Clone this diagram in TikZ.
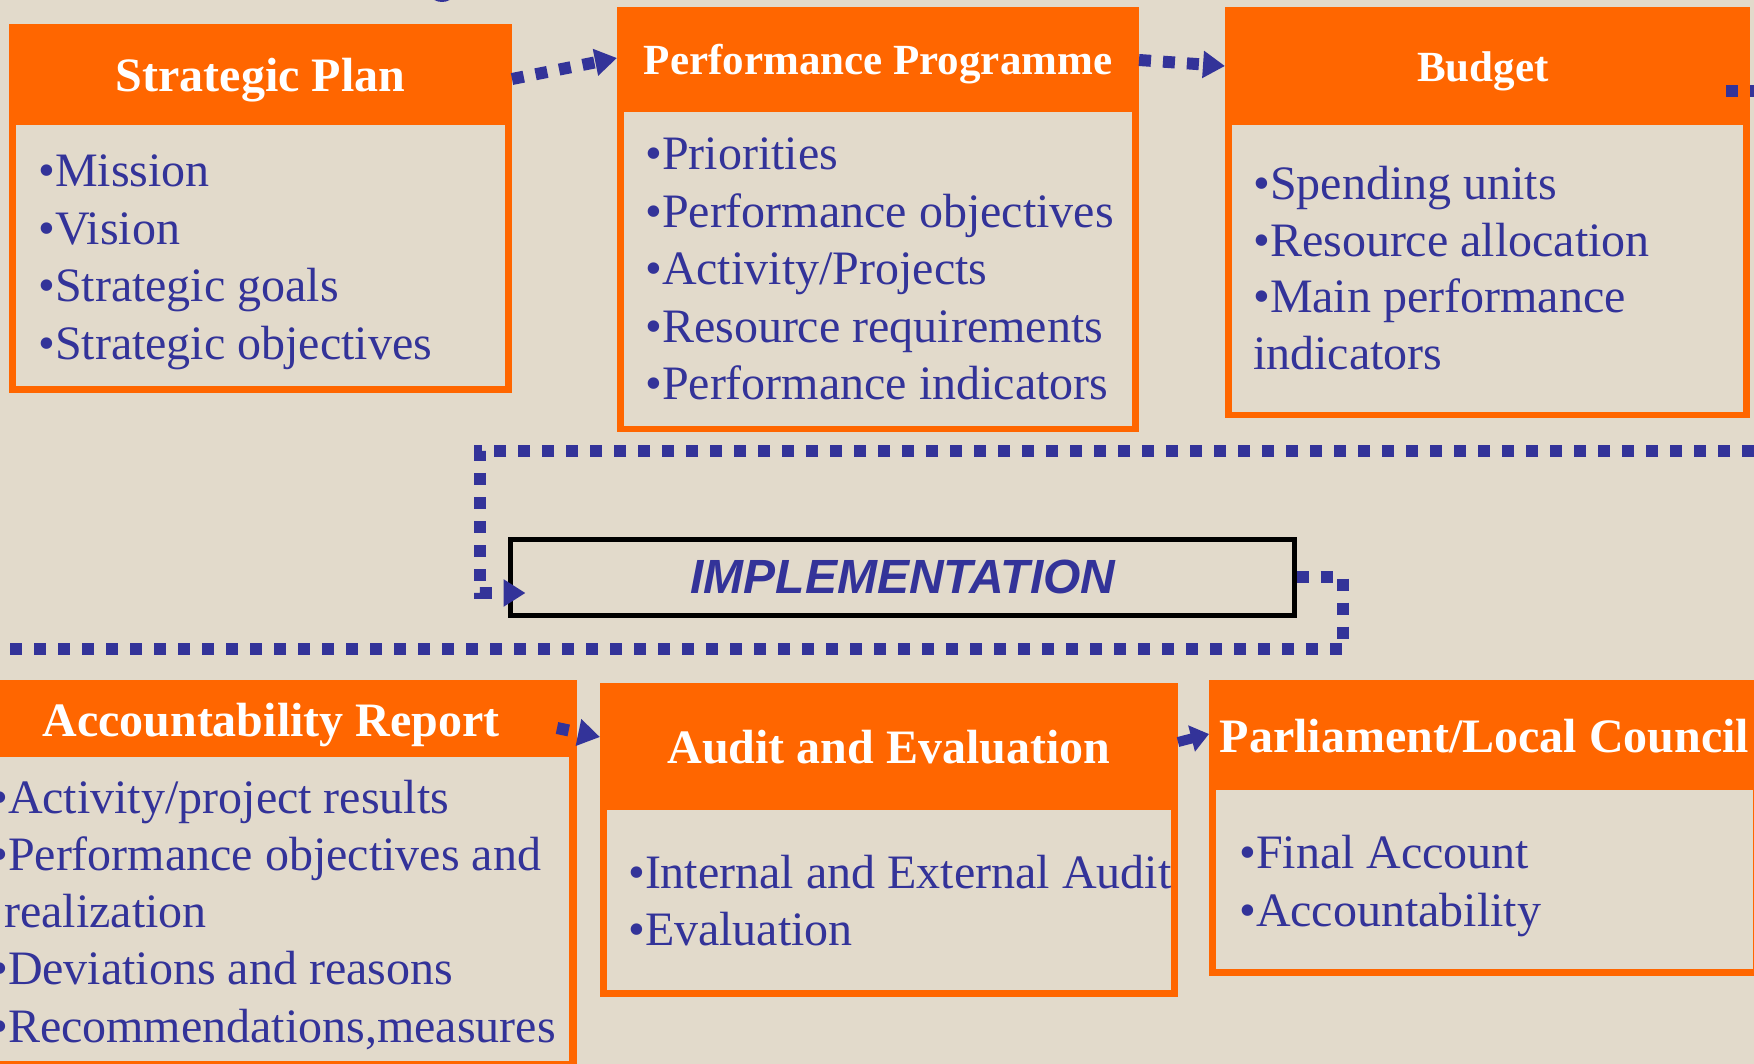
\documentclass[tikz,border=0pt]{standalone}
\usepackage{fontspec}
\setmainfont{Liberation Serif}
\newfontfamily\implfont{Liberation Sans}
\usetikzlibrary{arrows.meta,calc}
\definecolor{bgc}{RGB}{226,218,203}
\definecolor{orng}{RGB}{255,102,0}
\definecolor{txtblue}{RGB}{51,51,153}
\begin{document}
\begin{tikzpicture}[x=1pt,y=-1pt,
  panel/.style={fill=orng, draw=none, anchor=north west, inner sep=0pt, outer sep=0pt},
  ttl/.style={text=white, font=\fontsize{48}{58}\selectfont\bfseries, anchor=base, inner sep=0pt},
  ttls/.style={text=white, font=\fontsize{43}{52}\selectfont\bfseries, anchor=base, inner sep=0pt},
  itm/.style={text=txtblue, font=\fontsize{48}{58}\selectfont, anchor=base west, inner sep=0pt},
  dotline/.style={txtblue, line width=12pt, dash pattern=on 12pt off 12pt},
  flow/.style={dotline, -{Triangle[length=22pt,width=26pt]}},
  ]
\fill[bgc] (0,0) rectangle (1754,1064);
\useasboundingbox (0,0) rectangle (1754,1064);
\clip (0,0) rectangle (1754,1064);

% small fragment at the top edge
\fill[txtblue] (442,-5) ellipse (11pt and 7pt);

% Strategic Plan
\node[panel, minimum width=503pt, minimum height=369pt] (sp) at (9,24) {};
\fill[bgc] (16,125) rectangle (505,386);
\node[ttl] (spt) at (260.5,92) {Strategic Plan};
\node[itm] (sp1) at (38,187) {•Mission};
\node[itm] (sp2) at (38,245) {•Vision};
\node[itm] (sp3) at (38,302) {•Strategic goals};
\node[itm] (sp4) at (38,360) {•Strategic objectives};

% Performance Programme
\node[panel, minimum width=522pt, minimum height=425pt] (pp) at (617,7) {};
\fill[bgc] (624,112) rectangle (1132,426);
\node[ttls] (ppt) at (878,75) {Performance Programme};
\node[itm] (pp1) at (645,170) {•Priorities};
\node[itm] (pp2) at (645,228) {•Performance objectives};
\node[itm] (pp3) at (645,285) {•Activity/Projects};
\node[itm] (pp4) at (645,343) {•Resource requirements};
\node[itm] (pp5) at (645,400) {•Performance indicators};

% Budget
\node[panel, minimum width=525pt, minimum height=411pt] (bud) at (1225,7) {};
\fill[bgc] (1232,125) rectangle (1743,412);
\node[ttls] (budt) at (1483,82) {Budget};
\node[itm] (bu1) at (1253,200) {•Spending units};
\node[itm] (bu2) at (1253,257) {•Resource allocation};
\node[itm] (bu3) at (1253,313) {•Main performance};
\node[itm] (bu4) at (1253,370) {indicators};

% Implementation
\node[draw=black, line width=5pt, minimum width=784pt, minimum height=76pt, inner sep=0pt] (impl) at (902,577) {};
\node[text=txtblue, font=\implfont\fontsize{48}{58}\selectfont\bfseries\itshape, anchor=base, inner sep=0pt] (implt) at (903,593) {IMPLEMENTATION};

% Accountability Report
\node[panel, minimum width=612pt, minimum height=389pt] (ar) at (-35,680) {};
\fill[bgc] (-28,757) rectangle (569,1061);
\node[ttl] (art) at (271,736) {Accountability Report};
\node[itm] (ar1) at (-9,813) {•Activity/project results};
\node[itm] (ar2) at (-9,870) {•Performance objectives and};
\node[itm] (ar3) at (4,927) {realization};
\node[itm] (ar4) at (-9,984) {•Deviations and reasons};
\node[itm] (ar5) at (-9,1042) {•Recommendations,measures};

% Audit and Evaluation
\node[panel, minimum width=578pt, minimum height=314pt] (ae) at (600,683) {};
\fill[bgc] (607,810) rectangle (1171,990);
\node[ttl] (aet) at (889,763) {Audit and Evaluation};
\node[itm] (ae1) at (628,888) {•Internal and External Audit};
\node[itm] (ae2) at (628,945) {•Evaluation};

% Parliament/Local Council
\node[panel, minimum width=551pt, minimum height=296pt] (plc) at (1209,680) {};
\fill[bgc] (1216,790) rectangle (1753,969);
\node[ttl] (plct) at (1484.5,752) {Parliament/Local Council};
\node[itm] (pl1) at (1239,868) {•Final Account};
\node[itm] (pl2) at (1239,926) {•Accountability};

% connectors
\coordinate (loopR) at (1800,451);
\coordinate (loopL) at (480,451);
\coordinate (loopB) at (1343,649);
\coordinate (offL) at (-40,649);

\draw[flow] ([yshift=-55pt]sp.north east) -- ([yshift=-51pt]pp.north west);
\draw[flow] ([yshift=-53pt]pp.north east) -- ([yshift=-59pt]bud.north west);
\draw[flow] ([shift={(-24pt,-84pt)}]bud.north east) -| (loopR) -- (loopL) |- ([shift={(18pt,-16pt)}]impl.west);
\draw[dotline] (impl.east) -| (loopB) -- (offL);
\draw[flow] ([shift={(-20pt,-48pt)}]ar.north east) -- ([yshift=-54pt]ae.north west);
\draw[txtblue, line width=10pt, -{Triangle[length=18pt,width=26pt]}] ([yshift=-59pt]ae.north east) -- ([yshift=-54pt]plc.north west);
\end{tikzpicture}
\end{document}
